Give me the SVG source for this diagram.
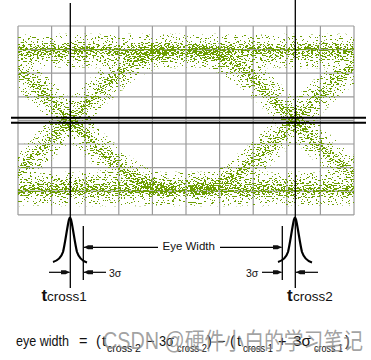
<svg xmlns="http://www.w3.org/2000/svg" width="371" height="360" viewBox="0 0 371 360">
<style>
.grid{stroke:#9c9c9c;stroke-width:1.2;fill:none}
.bk{stroke:#000;stroke-width:1.3;fill:none}
.thick{stroke:#000;stroke-width:2;fill:none}
.pulse{stroke:#000;stroke-width:2.2;fill:none;stroke-linejoin:round}
.arr{stroke:#000;stroke-width:1.2;fill:none;marker-end:url(#ah)}
.lbl{font-family:"Liberation Sans",Arial,sans-serif;fill:#111}
.band{fill:none;stroke:#000}
</style>
<defs>
<marker id="ah" viewBox="-9 -3 9 6" refX="0" refY="0" markerWidth="9" markerHeight="6" orient="auto" markerUnits="userSpaceOnUse">
<path d="M0,0 L-4,-2 L-9,-2 L-9,2 L-4,2 Z" fill="#111"/>
</marker>
<clipPath id="gclip"><rect x="18" y="26" width="336" height="189"/></clipPath>
<filter id="speckle" filterUnits="userSpaceOnUse" x="0" y="0" width="371" height="260" color-interpolation-filters="sRGB">
<feGaussianBlur in="SourceAlpha" stdDeviation="1.5" result="dens"/>
<feTurbulence type="fractalNoise" baseFrequency="0.43 0.83" numOctaves="2" seed="7" result="noise"/>
<feColorMatrix in="noise" type="matrix" values="0 0 0 0 0  0 0 0 0 0  0 0 0 0 0  3 0 0 0 -1" result="nA"/>
<feComposite in="dens" in2="nA" operator="arithmetic" k1="0" k2="1" k3="-1" k4="0" result="diff"/>
<feComponentTransfer in="diff" result="mask"><feFuncA type="linear" slope="60" intercept="0"/></feComponentTransfer>
<feFlood flood-color="#6c9e00" result="col"/>
<feComposite in="col" in2="mask" operator="in"/>
</filter>
</defs>

<g id="grid">
<path class="grid" d="M18,26V215M51.6,26V215M85.2,26V215M118.8,26V215M152.4,26V215M186,26V215M219.6,26V215M253.2,26V215M286.8,26V215M320.4,26V215M354,26V215"/>
<path class="grid" d="M18,26H354M18,49.6H354M18,73.2H354M18,96.8H354M18,120.4H354M18,144H354M18,167.6H354M18,191.2H354M18,214.8H354"/>
</g>

<g id="eye-traces" clip-path="url(#gclip)">
<g filter="url(#speckle)">
<g class="band">
<path d="M10,51H360" stroke-width="30" stroke-opacity="0.06"/>
<path d="M10,52H360" stroke-width="18" stroke-opacity="0.24"/>
<path d="M10,51H360" stroke-width="9" stroke-opacity="0.25"/>
<path d="M10,49.5H360" stroke-width="2" stroke-opacity="0.45"/>
<path d="M10,189H360" stroke-width="30" stroke-opacity="0.06"/>
<path d="M10,188H360" stroke-width="18" stroke-opacity="0.24"/>
<path d="M10,189.5H360" stroke-width="9" stroke-opacity="0.25"/>
<path d="M10,190.5H360" stroke-width="2" stroke-opacity="0.45"/>
<g stroke-opacity="0.24">
<path d="M-35,50 C41.5,50 98.5,190 175,190" stroke-width="13"/>
<path d="M-35,190 C41.5,190 98.5,50 175,50" stroke-width="13"/>
<path d="M190,50 C266.5,50 323.5,190 400,190" stroke-width="13"/>
<path d="M190,190 C266.5,190 323.5,50 400,50" stroke-width="13"/>
</g>
<g stroke-opacity="0.07">
<path d="M-35,50 C41.5,50 98.5,190 175,190" stroke-width="26"/>
<path d="M-35,190 C41.5,190 98.5,50 175,50" stroke-width="26"/>
<path d="M190,50 C266.5,50 323.5,190 400,190" stroke-width="26"/>
<path d="M190,190 C266.5,190 323.5,50 400,50" stroke-width="26"/>
</g>
<g stroke-opacity="0.22">
<path d="M-35,50 C41.5,50 98.5,190 175,190" stroke-width="6"/>
<path d="M-35,190 C41.5,190 98.5,50 175,50" stroke-width="6"/>
<path d="M190,50 C266.5,50 323.5,190 400,190" stroke-width="6"/>
<path d="M190,190 C266.5,190 323.5,50 400,50" stroke-width="6"/>
</g>
</g>
</g>
</g>

<g id="crossing-lines">
<line class="thick" x1="11" y1="117.7" x2="366" y2="117.7"/>
<line class="thick" x1="11" y1="122.7" x2="366" y2="122.7"/>
<line class="bk" x1="70.3" y1="3" x2="70.3" y2="288"/>
<line class="bk" x1="295.3" y1="0" x2="295.3" y2="288"/>
</g>

<g id="pulse1">
<path class="pulse" d="M53,262 C58,260.5 61,258 63,252 C65,244 67,228 69,219.5 Q70,215.5 71,219.5 C73,228 75,244 77,252 C79,258 82,261 87,262.5"/>
<line class="bk" x1="83.3" y1="226" x2="83.3" y2="280"/>
</g>
<g id="pulse2">
<path class="pulse" d="M278,262 C283,260.5 286,258 288,252 C290,244 292,228 294,219.5 Q295,215.5 296,219.5 C298,228 300,244 302,252 C304,258 307,261 312,262.5"/>
<line class="bk" x1="282.3" y1="226" x2="282.3" y2="280"/>
</g>

<g id="connectors">
<line class="arr" x1="158" y1="247.3" x2="84" y2="247.3"/>
<line class="arr" x1="220" y1="247.3" x2="281.6" y2="247.3"/>
<line class="arr" x1="49" y1="272.3" x2="69.6" y2="272.3"/>
<line class="arr" x1="106" y1="272.3" x2="84" y2="272.3"/>
<line class="arr" x1="262" y1="272.3" x2="281.6" y2="272.3"/>
<line class="arr" x1="318" y1="272.3" x2="296" y2="272.3"/>
</g>

<g id="labels">
<text class="lbl" x="162.5" y="250" font-size="11.5">Eye Width</text>
<text class="lbl" x="109" y="276.5" font-size="10.5">3σ</text>
<text class="lbl" x="246" y="276.5" font-size="10.5">3σ</text>
<text class="lbl" x="41.5" y="300.5" font-size="17" font-weight="bold" fill="#1b1b3a">t</text>
<text class="lbl" x="47" y="300.5" font-size="13.5">cross1</text>
<text class="lbl" x="287" y="300.5" font-size="17" font-weight="bold" fill="#1b1b3a">t</text>
<text class="lbl" x="293" y="300.5" font-size="13.5">cross2</text>
</g>

<g id="formula" class="lbl">
<text x="16" y="346" font-size="14.5" textLength="53" lengthAdjust="spacingAndGlyphs">eye width</text>
<text x="79" y="346" font-size="14.5">=</text>
<text x="96" y="346" font-size="14.5">(</text>
<text x="102" y="346" font-size="14.5">t</text>
<text x="107" y="351.5" font-size="11" textLength="34" lengthAdjust="spacingAndGlyphs">cross 2</text>
<text x="146" y="346" font-size="14.5">−</text>
<text x="159" y="346" font-size="14.5" textLength="15" lengthAdjust="spacingAndGlyphs">3σ</text>
<text x="177" y="351.5" font-size="11" textLength="30" lengthAdjust="spacingAndGlyphs">cross 2</text>
<text x="207" y="346" font-size="14.5">)</text>
<text x="217" y="346" font-size="14.5">−</text>
<text x="230" y="346" font-size="14.5">(</text>
<text x="237" y="346" font-size="14.5">t</text>
<text x="243" y="351.5" font-size="11" textLength="30" lengthAdjust="spacingAndGlyphs">cross 1</text>
<text x="278" y="346" font-size="14.5">+</text>
<text x="293" y="346" font-size="14.5" textLength="18" lengthAdjust="spacingAndGlyphs">3σ</text>
<text x="314" y="351.5" font-size="11" textLength="29" lengthAdjust="spacingAndGlyphs">cross 1</text>
<text x="345" y="346" font-size="14.5">)</text>
</g>

<g id="watermark">
<text x="103" y="349" font-family="'Liberation Sans','Noto Sans CJK SC',sans-serif" font-size="23" fill="#8a8a8a" fill-opacity="0.8" textLength="260" lengthAdjust="spacingAndGlyphs">CSDN @硬件小白的学习笔记</text>
</g>
</svg>
